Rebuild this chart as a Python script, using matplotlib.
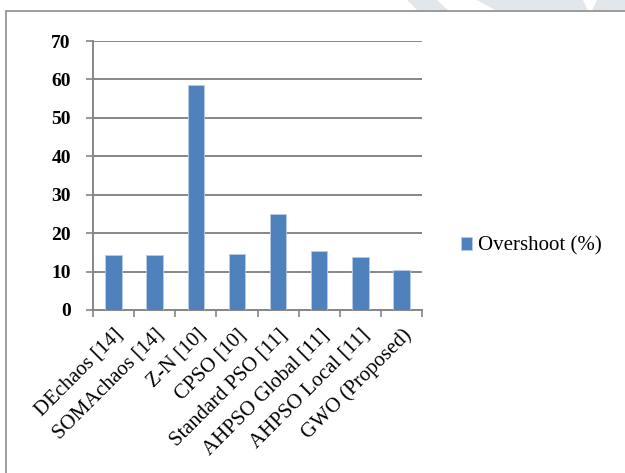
import numpy as np
import matplotlib
matplotlib.use("Agg")
import matplotlib.pyplot as plt
from matplotlib.patches import Rectangle, Polygon

methods = ['DEchaos [14]', 'SOMAchaos [14]', 'Z-N [10]', 'CPSO [10]',
           'Standard PSO [11]', 'AHPSO Global [11]', 'AHPSO Local [11]',
           'GWO (Proposed)']
overshoot = [14.4, 14.4, 58.5, 14.5, 25.0, 15.4, 13.9, 10.3]

plt.rcParams['font.family'] = ['Liberation Serif', 'DejaVu Serif']
W, H = 625, 473
fig = plt.figure(figsize=(W / 100, H / 100), dpi=100)


def px(pts):
    # pixel coords (from top-left) -> figure fraction
    return [(a / W, 1 - b / H) for a, b in pts]


# faint watermark pieces above the chart box
for pts in [[(407, 0), (437, 0), (449, 11), (418, 11)],
            [(477, 0), (583, 0), (588, 11), (497, 11)],
            [(597, 0), (625, 0), (625, 11), (592, 11)]]:
    fig.patches.append(Polygon(px(pts), closed=True,
                               transform=fig.transFigure,
                               facecolor='#e1e7ea', edgecolor='none'))

# chart border (runs off the right and bottom edges)
fig.patches.append(Rectangle((6 / W, -0.05), 1.2, 1 - 11 / H + 0.05,
                             transform=fig.transFigure, fill=False,
                             edgecolor='#8c8c8c', linewidth=1.2))

ax = fig.add_axes([93 / W, 1 - 310 / H, (422 - 93) / W, (310 - 41) / H])
x = np.arange(len(methods))
ax.bar(x, overshoot, width=0.4, color='#4F81BD', edgecolor='#b8cce4',
       linewidth=0.6, label='Overshoot (%)', zorder=3)

ax.set_xlim(-0.5, len(methods) - 0.5)
ax.set_ylim(0, 70)
ax.set_yticks(range(0, 71, 10))
ax.set_yticklabels([str(v) for v in range(0, 71, 10)], fontweight='bold',
                   fontsize=14)
ax.yaxis.grid(True, color='#868686', linewidth=1.4, zorder=0)

ax.set_xticks(x)
ax.set_xticklabels(methods, rotation=45, ha='right', rotation_mode='anchor',
                   fontsize=15)
ax.tick_params(axis='x', length=0, pad=11)
ax.set_xticks(np.arange(-0.5, len(methods)), minor=True)
ax.tick_params(axis='x', which='minor', length=5, color='#868686', width=1.2)
ax.tick_params(axis='y', length=5, color='#868686', width=1.2, pad=11)

for s in ['top', 'right']:
    ax.spines[s].set_visible(False)
for s in ['left', 'bottom']:
    ax.spines[s].set_color('#868686')
    ax.spines[s].set_linewidth(1.4)

fig.legend(loc='center left', bbox_to_anchor=(442 / W, 1 - 246 / H),
           frameon=False, fontsize=15, handlelength=0.55, handleheight=0.55,
           handletextpad=0.3)

fig.savefig('out.png', dpi=100)
